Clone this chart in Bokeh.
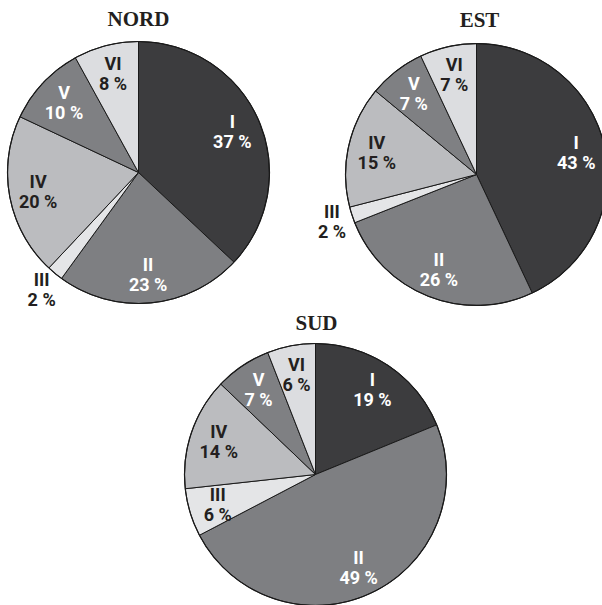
import math
from bokeh.plotting import figure
from bokeh.models import Range1d, ColumnDataSource
from bokeh.core.properties import value
from bokeh.embed import file_html
from bokeh.resources import INLINE

# ---- data ----
classes = ["I", "II", "III", "IV", "V", "VI"]
regions = ["NORD", "EST", "SUD"]
nord = [37, 23, 2, 20, 10, 8]
est = [43, 26, 2, 15, 7, 7]
sud = [19, 49, 6, 14, 7, 6]
series = [nord, est, sud]

# ---- style ----
slice_colors = ["#3c3c3e", "#7e7f82", "#e4e5e7", "#bbbcbf", "#7f8083", "#dcdde0"]
label_colors = ["white", "white", "#231f20", "#231f20", "white", "#231f20"]
# layout in picture-pixel units (y measured from top)
centers = [(138, 172), (476, 174), (315, 474)]
radius = 131
title_pos = [(138, 18), (479, 19), (316, 322)]
outside = {0: [2], 1: [2], 2: []}  # indices of slices labelled outside

W, H = 602, 605
p = figure(width=W, height=H, output_backend="svg", toolbar_location=None,
           x_axis_type=None, y_axis_type=None, min_border=0,
           x_range=Range1d(0, W), y_range=Range1d(0, H))
p.outline_line_color = None
p.grid.visible = False
p.background_fill_color = "white"

lab_font = value("Roboto")

for k, vals in enumerate(series):
    cx, cy_img = centers[k]
    cy = H - cy_img
    total = float(sum(vals))
    starts, ends, mids = [], [], []
    cum = 0.0
    for v in vals:
        a0 = math.pi / 2 - 2 * math.pi * cum / total
        cum += v
        a1 = math.pi / 2 - 2 * math.pi * cum / total
        starts.append(a0)
        ends.append(a1)
        mids.append((a0 + a1) / 2)
    src = ColumnDataSource(dict(x=[cx] * len(vals), y=[cy] * len(vals),
                                s=starts, e=ends, c=slice_colors))
    p.wedge(x="x", y="y", radius=radius, start_angle="s", end_angle="e",
            direction="clock", fill_color="c", line_color="#1a1a1a",
            line_width=1, source=src)
    p.circle(x=[cx], y=[cy], radius=radius, fill_color=None,
             line_color="#1a1a1a", line_width=1.2)

    lx, ly, top_t, bot_t, tc = [], [], [], [], []
    for i, v in enumerate(vals):
        rr = radius * (1.16 if i in outside[k] else 0.78)
        lx.append(cx + rr * math.cos(mids[i]))
        ly.append(cy + rr * math.sin(mids[i]))
        top_t.append(classes[i])
        bot_t.append(f"{v} %")
        tc.append("#231f20" if i in outside[k] else label_colors[i])
    ls = ColumnDataSource(dict(x=lx, y=ly, t1=top_t, t2=bot_t, c=tc))
    p.text(x="x", y="y", text="t1", source=ls, text_color="c",
           text_font=lab_font, text_font_style="bold", text_font_size="18px",
           text_align="center", text_baseline="middle", y_offset=-10)
    p.text(x="x", y="y", text="t2", source=ls, text_color="c",
           text_font=lab_font, text_font_style="bold", text_font_size="18px",
           text_align="center", text_baseline="middle", y_offset=10)

    tx, ty = title_pos[k]
    p.text(x=[tx], y=[H - ty], text=[regions[k]], text_color="#231f20",
           text_font=value("Liberation Serif"), text_font_style="bold",
           text_font_size="21px", text_align="center", text_baseline="middle")

open("out.html", "w").write(file_html(p, INLINE))
